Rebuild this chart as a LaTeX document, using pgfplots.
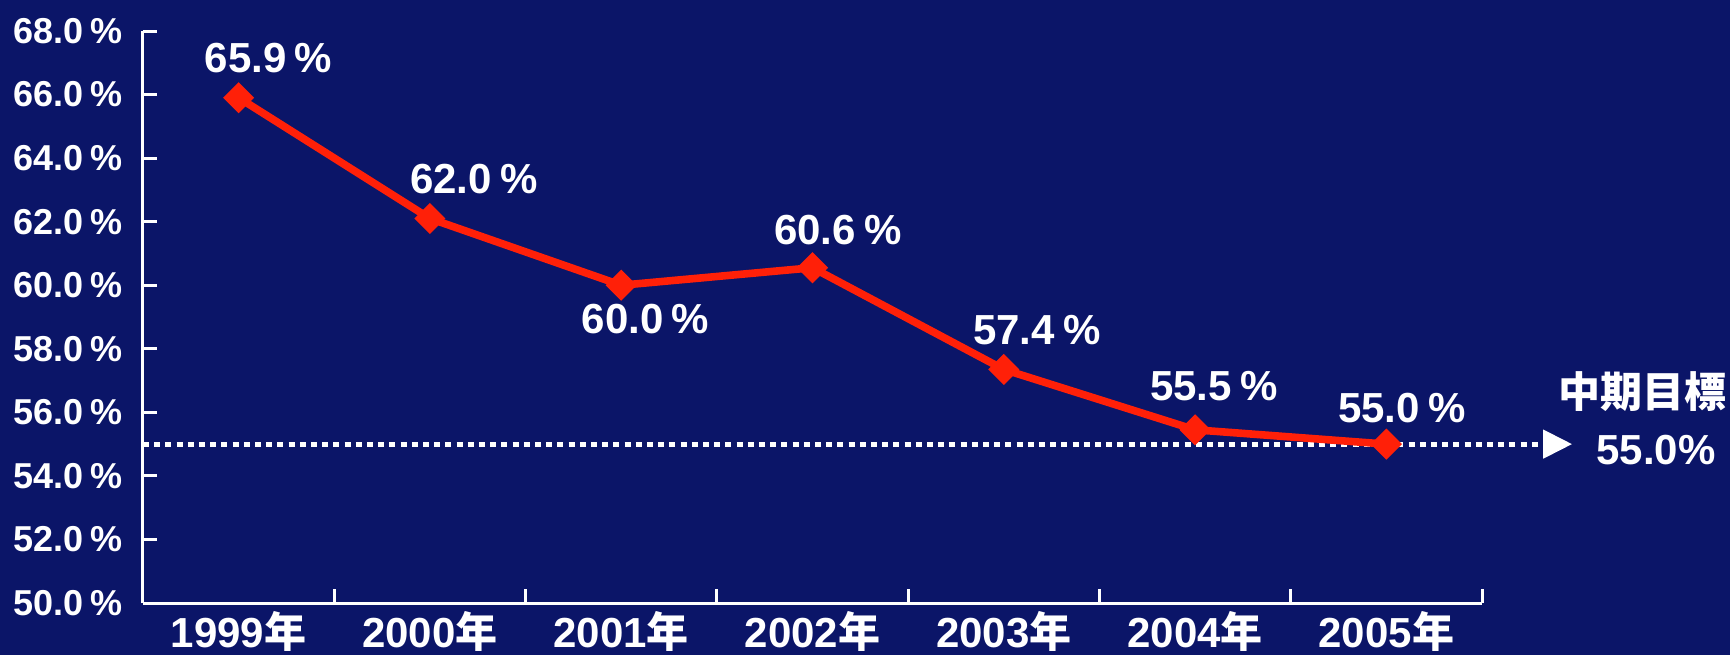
\documentclass[border=0pt]{standalone}
\usepackage{fontspec}
\setmainfont{Liberation Sans}
\newfontfamily\cjk{Noto Sans CJK JP}
\usepackage{pgfplots}
\pgfplotsset{compat=1.18}
\definecolor{bg}{RGB}{11,21,104}
\definecolor{lred}{RGB}{255,32,8}
\begin{document}
\begin{tikzpicture}
\fill[bg] (0,0) rectangle (865pt,327.5pt);
\begin{axis}[
  at={(71.5pt,26pt)}, anchor=south west,
  scale only axis, width=669.5pt, height=286pt,
  xmin=-0.5, xmax=6.5, ymin=50, ymax=68,
  axis lines*=left,
  axis line style={white, line width=1.5pt},
  every tick/.style={white, line width=1.5pt},
  tick align=inside, major tick length=7pt,
  xtick={-0.5,0.5,...,6.5},
  x tick label as interval,
  xticklabels={1999{\cjk\bfseries 年},2000{\cjk\bfseries 年},2001{\cjk\bfseries 年},2002{\cjk\bfseries 年},2003{\cjk\bfseries 年},2004{\cjk\bfseries 年},2005{\cjk\bfseries 年}},
  xticklabel style={font=\fontsize{21}{25}\selectfont\bfseries, text=white, inner sep=0pt, yshift=-4pt},
  ytick={50,52,...,68},
  yticklabel={\pgfmathprintnumber[fixed,fixed zerofill,precision=1]{\tick}\hspace{0.2em}\%},
  /pgf/number format/assume math mode=true,
  yticklabel style={font=\fontsize{18}{22}\selectfont\bfseries, text=white, inner sep=0pt, xshift=-10pt},
  clip=false,
]
\addplot[white, line width=2.5pt, dash pattern=on 3pt off 2.6pt] coordinates {(-0.5,55) (6.82,55)};
\fill[white] (axis cs:6.82,54.54) -- (axis cs:6.97,55) -- (axis cs:6.82,55.46) -- cycle;
\addplot[lred, line width=3.8pt, mark=square*, mark size=3.6pt, mark options={rotate=45, solid}] coordinates {
(0,65.9) (1,62.1) (2,60.0) (3,60.55) (4,57.35) (5,55.45) (6,55.0)};
\begin{scope}[every node/.style={text=white, font=\fontsize{21}{25}\selectfont\bfseries}]
\node[xshift=14.9pt, yshift=19.9pt] at (axis cs:0,65.9) {65.9\hspace{0.2em}\%};
\node[xshift=22pt, yshift=19.9pt] at (axis cs:1,62.1) {62.0\hspace{0.2em}\%};
\node[xshift=12.1pt, yshift=-17.1pt] at (axis cs:2,60.0) {60.0\hspace{0.2em}\%};
\node[xshift=12.7pt, yshift=18.8pt] at (axis cs:3,60.55) {60.6\hspace{0.2em}\%};
\node[xshift=16.6pt, yshift=19.9pt] at (axis cs:4,57.35) {57.4\hspace{0.2em}\%};
\node[xshift=9.4pt, yshift=22pt] at (axis cs:5,55.45) {55.5\hspace{0.2em}\%};
\node[xshift=7.7pt, yshift=18.2pt] at (axis cs:6,55.0) {55.0\hspace{0.2em}\%};
\node at (axis cs:7.34,56.64) {\cjk\bfseries 中期目標};
\node at (axis cs:7.41,54.82) {55.0\%};
\end{scope}
\end{axis}
\pgfresetboundingbox
\useasboundingbox (0,0) rectangle (865pt,327.5pt);
\end{tikzpicture}
\end{document}
